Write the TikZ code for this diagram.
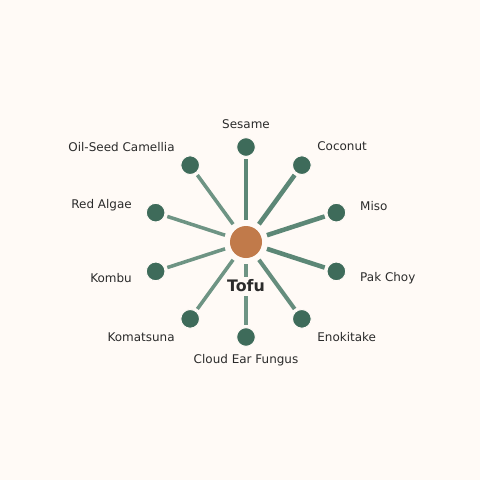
\documentclass[tikz,border=0pt]{standalone}
\usepackage{fontspec}
\setmainfont{DejaVu Sans}
\usetikzlibrary{positioning}
\definecolor{paper}{HTML}{FFFAF6}
\definecolor{leaf}{HTML}{3E6B5A}
\definecolor{stem}{HTML}{4A7A68}
\definecolor{tofucol}{HTML}{C17A4A}
\definecolor{ink}{HTML}{2B2B2B}
\tikzset{
	hub/.style = {
		circle,
		fill = tofucol,
		minimum size = 0.667cm,
		inner sep = 0pt,
		outer sep = 0.125cm,
	},
	ingredient/.style = {
		circle,
		fill = leaf,
		draw = paper,
		line width = 0.6pt,
		minimum size = 0.39cm,
		inner sep = 0pt,
		outer sep = 0.06cm,
	},
	spoke/.style = {
		line cap = butt,
	},
	tag/.style = {
		text = ink,
		inner sep = 1pt,
		font = \fontsize{7.1}{8.5}\selectfont,
	},
	hub label/.style = {
		text = ink,
		fill = paper,
		inner sep = 2pt,
		font = \fontsize{9.4}{11}\selectfont\bfseries,
	},
}

\begin{document}
\begin{tikzpicture}
	\fill[paper] (0, 0) rectangle (10, 10);
	\useasboundingbox (0, 0) rectangle (10, 10);
	\def\rsat{1.979}
	\def\rtag{2.458}
	\node[hub] (tofu) at (5.125, 4.958) {};
	\foreach \ang/\key/\txt/\lw/\mix/\anc in {
			90/sesame/Sesame/2.7/90/center,
			54/coconut/Coconut/2.7/90/west,
			18/miso/Miso/2.7/90/west,
			-18/pakchoy/Pak Choy/2.7/90/west,
			-54/enokitake/Enokitake/2.4/85/west,
			-90/cloudear/Cloud Ear Fungus/2.1/80/center,
			-126/komatsuna/Komatsuna/2.1/80/east,
			-162/kombu/Kombu/2.1/80/east,
			162/redalgae/Red Algae/2.1/80/east,
			126/camellia/Oil-Seed Camellia/2.1/80/east}{
		\node[ingredient] (\key) at ([shift = {(\ang:\rsat)}] tofu.center) {};
		\draw[spoke, line width = \lw pt, draw = stem!\mix!paper] (tofu) -- (\key);
		\node[tag, anchor = \anc] (\key-tag) at ([shift = {(\ang:\rtag)}] tofu.center) {\txt};
	}
	\node[hub label] (tofu-tag) at ([yshift = -0.917cm] tofu.center) {Tofu};
\end{tikzpicture}
\end{document}
